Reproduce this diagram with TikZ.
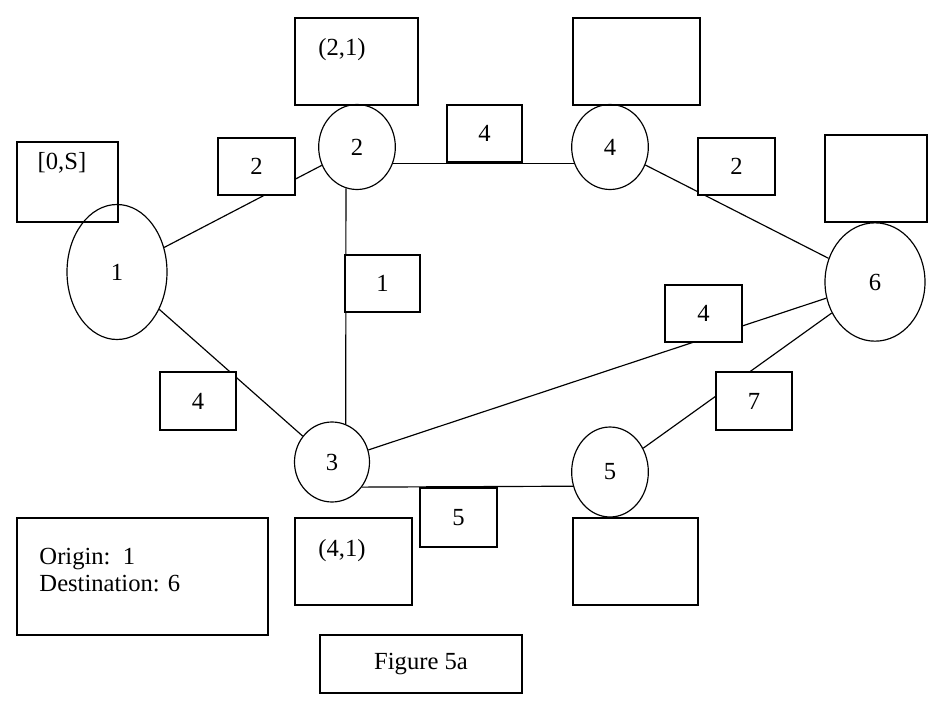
\documentclass[tikz,border=0pt]{standalone}
\usepackage{fontspec}
\setmainfont{Liberation Serif}
\usetikzlibrary{shapes.geometric}
\begin{document}
\begin{tikzpicture}[x=0.03cm,y=-0.03cm,line width=1pt,
  every node/.style={font=\fontsize{21}{25}\selectfont},
  vx/.style={draw,ellipse,inner sep=0pt},
  bx/.style={draw,rectangle,inner sep=0pt}]
\useasboundingbox (0,0) rectangle (944,702);
% vertices
\node[vx,minimum width=3cm,minimum height=4.05cm] (n1) at (117,272) {1};
\node[vx,minimum width=2.3cm,minimum height=2.55cm] (n2) at (357,147) {2};
\node[vx,minimum width=2.3cm,minimum height=2.55cm] (n4) at (610,147) {4};
\node[vx,minimum width=3cm,minimum height=3.55cm] (n6) at (875,282) {6};
\node[vx,minimum width=2.25cm,minimum height=2.4cm] (n3) at (332,462) {3};
\node[vx,minimum width=2.3cm,minimum height=2.7cm] (n5) at (610,472) {5};
% label boxes
\node[bx,minimum width=3.03cm,minimum height=2.4cm] (b1) at (67.5,182) {};
\node (t1) at (62,163) {[0,S]};
\node[bx,minimum width=3.69cm,minimum height=2.61cm] (b2) at (356.5,61.5) {};
\node (t2) at (342,50) {(2,1)};
\node[bx,minimum width=3.81cm,minimum height=2.61cm] (b4) at (636.5,61.5) {};
\node[bx,minimum width=3.06cm,minimum height=2.61cm] (b6) at (876,178.5) {};
\node[bx,minimum width=3.51cm,minimum height=2.61cm] (b3) at (353.5,561.5) {};
\node (t3) at (342,551) {(4,1)};
\node[bx,minimum width=3.75cm,minimum height=2.61cm] (b5) at (635.5,561.5) {};
\node[bx,minimum width=7.53cm,minimum height=3.51cm,align=left] (orig) at (142.5,576.5) {};
\node[align=left,anchor=west] (ot) at (35,570) {Origin:\ \ 1\\[-2pt]Destination: 6};
\node[bx,minimum width=6.06cm,minimum height=1.74cm] (fig) at (421,664) {Figure 5a};
% edges
\draw (n1) -- (n2);
\draw (n2.-25) -- (n4.205);
\draw (n4) -- (n6);
\draw (n2.255) -- (n3.70);
\draw (n1) -- (n3);
\draw (n3) -- (n6);
\draw (n5) -- (n6);
\draw (n3.-40) -- (n5.201);
% weight boxes
\node[bx,fill=white,minimum width=2.31cm,minimum height=1.71cm] (w12) at (256.5,166.5) {2};
\node[bx,fill=white,minimum width=2.25cm,minimum height=1.71cm] (w24) at (484.5,133.5) {4};
\node[bx,fill=white,minimum width=2.31cm,minimum height=1.71cm] (w46) at (736.5,166.5) {2};
\node[bx,fill=white,minimum width=2.25cm,minimum height=1.71cm] (w23) at (382.5,283.5) {1};
\node[bx,fill=white,minimum width=2.28cm,minimum height=1.74cm] (w13) at (198,401) {4};
\node[bx,fill=white,minimum width=2.31cm,minimum height=1.71cm] (w36) at (703.5,313.5) {4};
\node[bx,fill=white,minimum width=2.28cm,minimum height=1.74cm] (w56) at (754,401) {7};
\node[bx,fill=white,minimum width=2.31cm,minimum height=1.77cm] (w35) at (458.5,517.5) {5};
\end{tikzpicture}
\end{document}
